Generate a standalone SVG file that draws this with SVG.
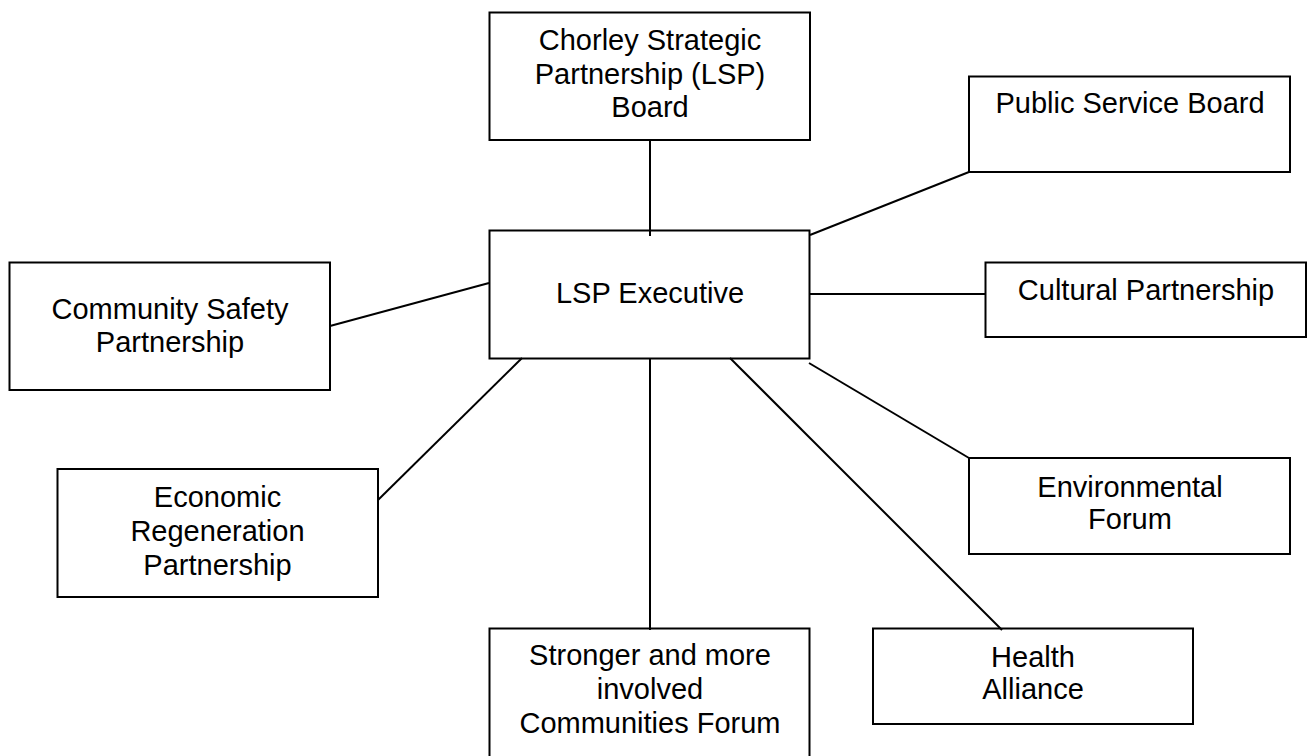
<svg xmlns="http://www.w3.org/2000/svg" width="1308" height="756" viewBox="0 0 1308 756">
<style>
.box{fill:#fff;stroke:#000;stroke-width:2}
.ln{stroke:#000;stroke-width:2;fill:none}
text{font-family:"Liberation Sans",Arial,sans-serif;font-size:29px;fill:#000;text-anchor:middle}
</style>
<rect width="1308" height="756" fill="#fff"/>
<g id="board">
<rect class="box" x="489.5" y="12.5" width="320.5" height="127.5"/>
<text x="650" y="50">Chorley Strategic</text>
<text x="650" y="83.5">Partnership (LSP)</text>
<text x="650" y="117">Board</text>
</g>
<g id="executive">
<rect class="box" x="489.5" y="230.5" width="320" height="128"/>
<text x="650" y="303">LSP Executive</text>
</g>
<g id="public-service">
<rect class="box" x="969" y="76.5" width="321" height="95.5"/>
<text x="1130" y="113">Public Service Board</text>
</g>
<g id="cultural">
<rect class="box" x="985.5" y="262.5" width="320.5" height="74.5"/>
<text x="1146" y="300">Cultural Partnership</text>
</g>
<g id="environmental">
<rect class="box" x="969" y="458" width="321" height="96"/>
<text x="1130" y="497">Environmental</text>
<text x="1130" y="529">Forum</text>
</g>
<g id="health">
<rect class="box" x="873" y="628.5" width="320" height="95.5"/>
<text x="1033" y="667">Health</text>
<text x="1033" y="699">Alliance</text>
</g>
<g id="stronger">
<rect class="box" x="489.5" y="628.5" width="320" height="140"/>
<text x="650" y="665">Stronger and more</text>
<text x="650" y="699">involved</text>
<text x="650" y="733">Communities Forum</text>
</g>
<g id="economic">
<rect class="box" x="57.5" y="469" width="320.5" height="128"/>
<text x="217.5" y="507">Economic</text>
<text x="217.5" y="541">Regeneration</text>
<text x="217.5" y="575">Partnership</text>
</g>
<g id="community-safety">
<rect class="box" x="9.5" y="262.5" width="320.5" height="127.5"/>
<text x="170" y="319">Community Safety</text>
<text x="170" y="352">Partnership</text>
</g>
<g id="connectors">
<line class="ln" x1="650" y1="140" x2="650" y2="236"/>
<line class="ln" x1="810" y1="235" x2="969" y2="172"/>
<line class="ln" x1="810" y1="294" x2="985" y2="294"/>
<line class="ln" x1="809" y1="363" x2="969" y2="458"/>
<line class="ln" x1="730" y1="358" x2="1002" y2="630"/>
<line class="ln" x1="650" y1="358" x2="650" y2="630"/>
<line class="ln" x1="522" y1="358" x2="378" y2="500"/>
<line class="ln" x1="330" y1="326" x2="489" y2="283"/>
</g>
</svg>
